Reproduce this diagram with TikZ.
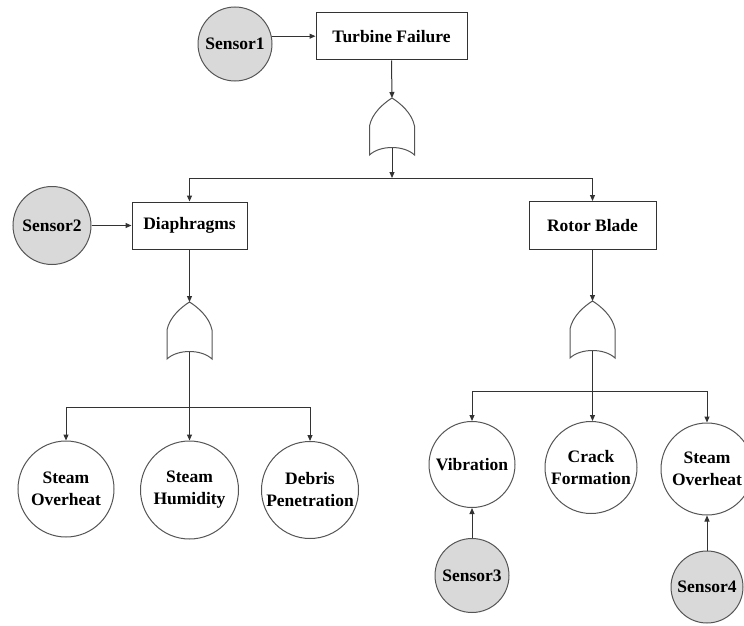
\documentclass[tikz,border=0pt]{standalone}
\usepackage{fontspec}
\setmainfont{Liberation Serif}
\usetikzlibrary{arrows.meta}
\definecolor{linec}{HTML}{333333}
\definecolor{circc}{HTML}{555555}
\definecolor{sensf}{HTML}{D9D9D9}
\tikzset{
  lbl/.style={font=\fontsize{17.5}{22}\selectfont\bfseries, align=center, text=black},
  evbox/.style={lbl, draw=linec, line width=1pt, fill=white, inner sep=0pt},
  evcirc/.style={lbl, draw=circc, line width=1pt, circle, fill=white, inner sep=0pt},
  sensor/.style={lbl, draw=circc, line width=1pt, circle, fill=sensf, inner sep=0pt, minimum size=74pt},
  arr/.style={draw=linec, line width=1pt, -{Triangle[length=6pt,width=5pt]}},
  ln/.style={draw=linec, line width=1pt},
  orgate/.pic={
    \draw[draw=circc, line width=1pt, fill=white]
      (0,0) .. controls (-8,5) and (-20,15) .. (-22.5,28) -- (-22.5,57)
      .. controls (-12,47) and (12,47) .. (22.5,57) -- (22.5,28)
      .. controls (20,15) and (8,5) .. (0,0) -- cycle;
    \coordinate (-top) at (0,0);
    \coordinate (-in) at (0,49.5);
  }
}
\begin{document}
\begin{tikzpicture}[x=1pt,y=-1pt]
\useasboundingbox (0,0) rectangle (744,626);
% top level
\node[sensor] (s1) at (235,44) {Sensor1};
\node[evbox, minimum width=151pt, minimum height=47pt] (tf) at (391.5,36.5) {Turbine Failure};
\pic (g1) at (392,98) {orgate};
\coordinate (b1) at (392,178);
% second level
\node[evbox, minimum width=115pt, minimum height=47pt] (dia) at (189.5,225.5) {Diaphragms};
\node[evbox, minimum width=127pt, minimum height=48pt] (rb) at (592.5,225.5) {Rotor Blade};
\node[sensor, minimum size=78pt] (s2) at (52,225.5) {Sensor2};
\pic (g2) at (189.5,302) {orgate};
\coordinate (b2) at (189.5,407);
\pic (g3) at (592.5,301) {orgate};
\coordinate (b3) at (592.5,391);
% leaves left
\node[evcirc, minimum size=96pt] (so1) at (66,489) {Steam\\Overheat};
\node[evcirc, minimum size=98pt] (sh) at (189.5,490) {Steam\\Humidity};
\node[evcirc, minimum size=97pt] (dp) at (310,490) {Debris\\Penetration};
% leaves right
\node[evcirc, minimum size=86pt] (vib) at (472,464.5) {Vibration};
\node[evcirc, minimum size=92pt] (cf) at (591,467.5) {Crack\\Formation};
\node[evcirc, minimum size=92pt] (so2) at (707,469) {Steam\\Overheat};
\node[sensor] (s3) at (472,575.5) {Sensor3};
\node[sensor, minimum size=72pt] (s4) at (707,587) {Sensor4};
% connectors
\draw[arr] (s1.12) -- (s1.12 -| tf.west);
\draw[arr] (tf.south) -- (g1-top);
\draw[arr] (g1-in) -- (b1);
\draw[arr] (b1) -| (dia.north);
\draw[arr] (b1) -| (rb.north);
\draw[arr] (s2) -- (dia);
\draw[arr] (dia.south) -- (g2-top);
\draw[arr] (g2-in) -- (sh.north);
\draw[arr] (b2) -| (so1.north);
\draw[arr] (b2) -| (dp.north);
\draw[arr] (rb.south) -- (g3-top);
\draw[ln] (g3-in) -- (b3);
\draw[arr] (b3) -| (vib.north);
\draw[arr] (b3) -| (so2.north);
\draw[arr] (b3) -- (b3 |- cf.north);
\draw[arr] (s3) -- (vib);
\draw[arr] (s4) -- (so2);
\end{tikzpicture}
\end{document}
